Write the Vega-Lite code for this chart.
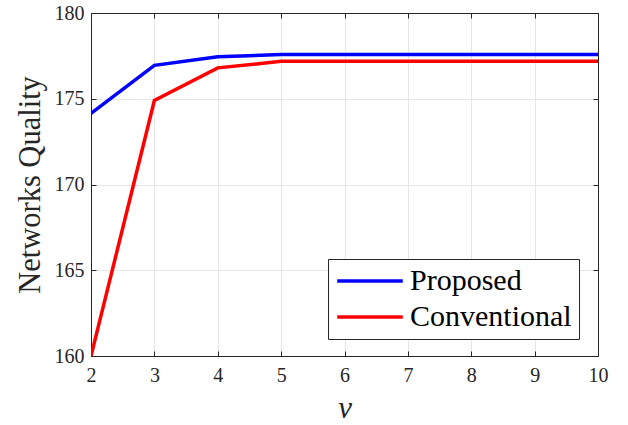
{
  "$schema": "https://vega.github.io/schema/vega-lite/v6.json",
  "width": 507,
  "height": 343,
  "autosize": {"type": "none"},
  "padding": {"left": 91, "top": 13, "right": 30, "bottom": 69},
  "background": "white",
  "config": {
    "view": {"stroke": null},
    "font": "Liberation Serif",
    "axis": {
      "labelFont": "Liberation Serif",
      "titleFont": "Liberation Serif",
      "labelColor": "#262626",
      "titleColor": "#262626",
      "titleFontWeight": "normal",
      "domainColor": "#262626",
      "tickColor": "#262626",
      "gridColor": "#e6e6e6",
      "tickSize": -5
    }
  },
  "data": {
    "values": [
      {"nu": 2, "q": 174.15, "s": "Proposed"},
      {"nu": 3, "q": 176.95, "s": "Proposed"},
      {"nu": 4, "q": 177.45, "s": "Proposed"},
      {"nu": 5, "q": 177.58, "s": "Proposed"},
      {"nu": 6, "q": 177.58, "s": "Proposed"},
      {"nu": 7, "q": 177.58, "s": "Proposed"},
      {"nu": 8, "q": 177.58, "s": "Proposed"},
      {"nu": 9, "q": 177.58, "s": "Proposed"},
      {"nu": 10, "q": 177.58, "s": "Proposed"},
      {"nu": 2, "q": 160.0, "s": "Conventional"},
      {"nu": 3, "q": 174.9, "s": "Conventional"},
      {"nu": 4, "q": 176.8, "s": "Conventional"},
      {"nu": 5, "q": 177.18, "s": "Conventional"},
      {"nu": 6, "q": 177.18, "s": "Conventional"},
      {"nu": 7, "q": 177.18, "s": "Conventional"},
      {"nu": 8, "q": 177.18, "s": "Conventional"},
      {"nu": 9, "q": 177.18, "s": "Conventional"},
      {"nu": 10, "q": 177.18, "s": "Conventional"}
    ]
  },
  "layer": [
    {
      "mark": {"type": "line", "strokeWidth": 3.5, "clip": true},
      "encoding": {
        "x": {
          "field": "nu", "type": "quantitative",
          "scale": {"domain": [2, 10], "nice": false, "zero": false},
          "axis": {"values": [2,3,4,5,6,7,8,9,10], "title": "ν", "titleFontStyle": "italic", "titleFontSize": 31, "titlePadding": 8, "labelFontSize": 20, "labelPadding": 14, "labelFlush": false}
        },
        "y": {
          "field": "q", "type": "quantitative",
          "scale": {"domain": [160, 180], "nice": false, "zero": false},
          "axis": {"values": [160,165,170,175,180], "title": "Networks Quality", "titleFontSize": 30.5, "titlePadding": 9, "labelFontSize": 20, "labelPadding": 12, "labelFlush": false}
        },
        "color": {
          "field": "s", "type": "nominal",
          "scale": {"domain": ["Proposed", "Conventional"], "range": ["#0000ff", "#ff0000"]},
          "legend": {
            "title": null,
            "orient": "none",
            "legendX": 237,
            "legendY": 246,
            "symbolType": "stroke",
            "symbolSize": 4300,
            "symbolStrokeWidth": 3.5,
            "clipHeight": 30,
            "labelFont": "Liberation Serif",
            "labelFontSize": 30,
            "labelLimit": 400,
            "labelColor": "#000000",
            "labelOffset": 5,
            "rowPadding": 6,
            "strokeColor": "#262626",
            "fillColor": "white",
            "padding": 7
          }
        }
      }
    },
    {
      "mark": {"type": "line", "opacity": 0},
      "encoding": {
        "x": {
          "field": "nu", "type": "quantitative",
          "scale": {"domain": [2, 10], "nice": false, "zero": false},
          "axis": {"orient": "top", "values": [2,3,4,5,6,7,8,9,10], "labels": false, "title": null, "grid": false}
        },
        "y": {
          "field": "q", "type": "quantitative",
          "scale": {"domain": [160, 180], "nice": false, "zero": false},
          "axis": {"orient": "right", "values": [160,165,170,175,180], "labels": false, "title": null, "grid": false}
        }
      }
    }
  ],
  "resolve": {"axis": {"x": "independent", "y": "independent"}}
}
